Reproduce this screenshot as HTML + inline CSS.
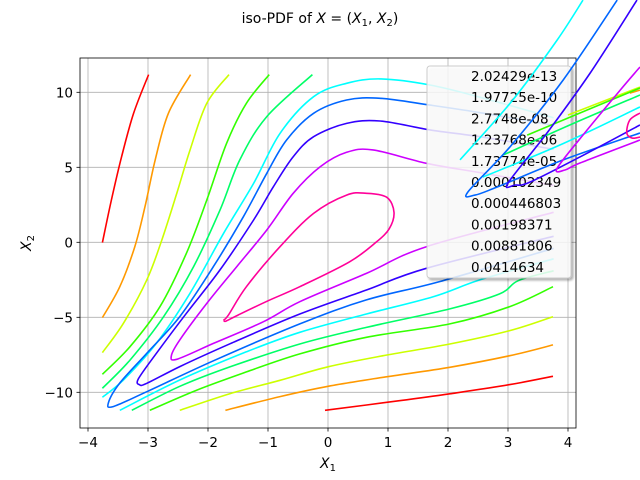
<!DOCTYPE html>
<html><head><meta charset="utf-8"><style>
body{margin:0;background:#fff;}
svg{display:block;font-family:"DejaVu Sans","Liberation Sans",sans-serif;}
</style></head><body>
<svg id="chart" width="640" height="480" viewBox="0 0 640 480">
<defs><clipPath id="axclip"><rect x="80" y="58" width="496" height="370"/></clipPath>
<filter id="sh" x="-10%" y="-10%" width="130%" height="130%"><feDropShadow dx="2" dy="2" stdDeviation="1" flood-color="#000" flood-opacity="0.35"/></filter></defs>
<text x="320" y="23" text-anchor="middle" font-size="14">iso-PDF of <tspan font-style="italic">X</tspan> = (<tspan font-style="italic">X</tspan><tspan font-size="10" dy="3">1</tspan><tspan dy="-3">, </tspan><tspan font-style="italic">X</tspan><tspan font-size="10" dy="3">2</tspan><tspan dy="-3">)</tspan></text>
<g id="grid"></g>
<g id="contours" clip-path="url(#axclip)"></g>
<rect x="80" y="58" width="496" height="370" fill="none" stroke="#000" stroke-width="0.8"/>
<g id="ticks"></g>
<text x="328" y="468" text-anchor="middle" font-size="14" font-style="italic">X<tspan font-size="10" dy="3" font-style="normal">1</tspan></text>
<text transform="translate(31,243) rotate(-90)" text-anchor="middle" font-size="14" font-style="italic">X<tspan font-size="10" dy="3" font-style="normal">2</tspan></text>
<g>
<rect x="427" y="66" width="144" height="212" rx="3" fill="#fff" fill-opacity="0.8" stroke="#ccc" filter="url(#sh)"/>
<g id="legendText"></g>
</g>
<g id="extra"></g>
</svg>
<script>
const xTicks=[-4,-3,-2,-1,0,1,2,3,4];
const yTicks=[-10,-5,0,5,10];
const levelLabels=["2.02429e-13","1.97725e-10","2.7748e-08","1.23768e-06","1.73774e-05","0.000102349","0.000446803","0.00198371","0.00881806","0.0414634"];
const colors=["#ff0000","#ff9900","#ccff00","#33ff00","#00ff66","#00ffff","#0066ff","#3300ff","#cc00ff","#ff0099"];
const red=[[[-3.76,-0.02],[-3.61,2.82],[-3.44,5.71],[-3.24,8.6],[-2.99,11.18]],[[-0.05,-11.2],[1.19,-10.56],[2.03,-10.1],[3.03,-9.49],[3.75,-8.93]]];
const orange=[[[-3.76,-5.02],[-3.47,-2.96],[-3.22,-0.29],[-3.05,2.38],[-2.88,5.49],[-2.66,8.6],[-2.29,11.18]],[[-1.71,-11.2],[-0.8,-10.29],[0,-9.6],[0.92,-9.0],[2.03,-8.33],[3.03,-7.56],[3.75,-6.84]]];
const yellow=[[[-3.76,-7.35],[-3.41,-5.4],[-3.02,-2.51],[-2.77,0.15],[-2.52,3.27],[-2.3,6.15],[-2.02,9.27],[-1.65,11.18]],[[-2.47,-11.2],[-1.63,-10.09],[-0.8,-9.2],[0,-8.3],[0.92,-7.56],[2.03,-6.78],[3.03,-5.89],[3.75,-4.96]]];
const lime=[[[-3.76,-8.8],[-3.3,-6.96],[-2.8,-4.29],[-2.36,-0.73],[-2.02,2.82],[-1.69,6.6],[-1.36,9.27],[-0.98,11.18]],[[-2.97,-11.2],[-2.19,-9.86],[-1.36,-8.64],[-0.47,-7.44],[0.64,-6.33],[2.03,-5.44],[3.03,-4.29],[3.75,-2.96]]];
const green=[[[-3.76,-9.73],[-3.3,-7.85],[-2.74,-4.96],[-2.24,-1.62],[-1.8,2.15],[-1.47,5.49],[-1.02,8.38],[-0.26,11.18]],[[-3.27,-11.2],[-2.47,-9.6],[-1.63,-8.3],[-0.47,-6.78],[0.64,-5.67],[2.03,-4.44],[2.86,-3.44],[3.17,-2.56],[3.76,-1.9]]];
const cyan=[[[-3.76,-10.33],[-3.41,-9.18],[-2.86,-6.73],[-2.3,-3.4],[-1.74,0.6],[-1.24,3.93],[-0.8,7.26],[-0.24,9.71],[0.31,10.6],[0.87,10.89],[1.7,10.49],[2.6,9.6],[3.76,8.3]],[[-3.47,-11.2],[-2.47,-9.18],[-1.36,-7.3],[-0.47,-6.0],[0.64,-4.78],[1.76,-3.62],[2.53,-2.51],[3.76,-1.1]]];
const blue=[[[3.76,7.8],[2.6,8.6],[1.7,9.15],[0.87,9.6],[0.31,9.49],[-0.24,8.6],[-0.69,6.82],[-1.02,4.6],[-1.41,1.71],[-1.91,-1.62],[-2.47,-4.95],[-3.02,-7.4],[-3.47,-9.38],[-3.66,-10.7],[-3.58,-10.95],[-3.02,-9.96],[-1.91,-7.9],[-0.47,-5.44],[0.64,-3.84],[1.86,-2.62],[3.76,-0.4]]];
const indigo=[[[3.76,6.2],[2.6,7.0],[1.7,7.49],[0.87,8.09],[0.31,7.93],[-0.24,7.04],[-0.58,5.71],[-0.91,3.71],[-1.24,1.49],[-1.8,-1.84],[-2.36,-4.73],[-2.86,-7.4],[-3.16,-9.1],[-3.14,-9.5],[-3.02,-9.4],[-2.47,-8.29],[-1.63,-6.76],[-0.47,-4.78],[0.64,-3.18],[1.64,-1.73],[3.76,0.4]]];
const purple=[[[3.76,3.8],[2.6,4.6],[1.64,5.27],[0.75,6.16],[0.31,6.0],[-0.13,5.04],[-0.58,3.27],[-1.02,0.82],[-1.52,-1.62],[-2.02,-4.07],[-2.47,-6.51],[-2.61,-7.55],[-2.52,-7.8],[-1.91,-6.74],[-1.08,-5.3],[-0.47,-3.96],[0.64,-2.07],[1.64,-0.29],[3.76,2.0]]];
const magenta=[[[-1.74,-5.18],[-1.66,-4.85],[-1.36,-2.96],[-0.8,-0.29],[-0.24,1.93],[0.31,3.15],[0.64,3.27],[0.98,3.0],[1.1,2.0],[1.02,0.9],[0.8,0.0],[0.36,-1.3],[-0.47,-2.96],[-1.0,-3.9],[-1.5,-4.85],[-1.7,-5.25],[-1.74,-5.18]]];
const levels=[red,orange,yellow,lime,green,cyan,blue,indigo,purple,magenta];
const extraCyan=[[[2.2,5.49],[3.08,9.49],[3.82,13.49],[4.25,16.15]],[[2.58,4.35],[3.87,6.49],[5.2,9.02]]];
const extraBlue=[[[4.82,16.15],[3.92,10.82],[3.03,6.35],[2.33,3.35],[2.45,3.15],[2.82,3.69],[3.92,5.49],[5.2,7.29]]];
const extraIndigo=[[[5.15,16.15],[4.37,11.29],[3.65,7.29],[3.0,3.95],[3.12,3.82],[3.37,4.02],[4.2,5.69],[5.2,7.82]]];
const extraPurple=[[[5.2,11.69],[4.87,10.15],[4.32,7.49],[3.82,4.95],[3.95,4.82],[4.2,5.29],[5.2,6.82]]];
const extraMagenta=[[[5.2,8.62],[5.03,8.15],[4.98,7.29],[5.07,6.95],[5.2,7.02]]];
const extraGreen=[[[2.92,5.82],[4.03,7.82],[5.2,9.82]]];
const extraLime=[[[3.32,7.15],[5.2,10.29]]];
const extraYellow=[[[4.0,8.49],[5.2,10.35]]];
const extraOrange=[[[5.03,9.95],[5.2,10.15]]];
const extras=[[extraOrange,1],[extraYellow,2],[extraLime,3],[extraGreen,4],[extraCyan,5],[extraBlue,6],[extraIndigo,7],[extraPurple,8],[extraMagenta,9]];

const NS="http://www.w3.org/2000/svg";
const sx=v=>328+60*v, sy=v=>242.3-15*v;
function pathD(pts){
  const p=pts.map(q=>[sx(q[0]),sy(q[1])]);
  let d="M"+p[0][0].toFixed(1)+","+p[0][1].toFixed(1);
  for(let i=0;i<p.length-1;i++){
    const p0=p[i-1]||p[i],p1=p[i],p2=p[i+1],p3=p[i+2]||p2;
    const c1=[p1[0]+(p2[0]-p0[0])/6,p1[1]+(p2[1]-p0[1])/6];
    const c2=[p2[0]-(p3[0]-p1[0])/6,p2[1]-(p3[1]-p1[1])/6];
    d+="C"+c1.map(v=>v.toFixed(1))+" "+c2.map(v=>v.toFixed(1))+" "+p2.map(v=>v.toFixed(1));
  }
  return d;
}
const grid=document.getElementById("grid"),ticks=document.getElementById("ticks");
xTicks.forEach(t=>{
  const l=document.createElementNS(NS,"line");
  l.setAttribute("x1",sx(t));l.setAttribute("x2",sx(t));l.setAttribute("y1",58);l.setAttribute("y2",428);
  l.setAttribute("stroke","#b0b0b0");l.setAttribute("stroke-width","0.8");
  
  
  grid.appendChild(l);
  const tk=document.createElementNS(NS,"line");
  tk.setAttribute("x1",sx(t));tk.setAttribute("x2",sx(t));tk.setAttribute("y1",428);tk.setAttribute("y2",431.5);
  tk.setAttribute("stroke","#000");tk.setAttribute("stroke-width","0.8");
  
  
  ticks.appendChild(tk);
  const tx=document.createElementNS(NS,"text");
  tx.setAttribute("x",sx(t));tx.setAttribute("y",447);tx.setAttribute("text-anchor","middle");tx.setAttribute("font-size","13.5");
  tx.textContent=(t<0?"\u2212":"")+Math.abs(t);
  
  
  ticks.appendChild(tx);
});
yTicks.forEach(t=>{
  const l=document.createElementNS(NS,"line");
  l.setAttribute("x1",80);l.setAttribute("x2",576);l.setAttribute("y1",sy(t));l.setAttribute("y2",sy(t));
  l.setAttribute("stroke","#b0b0b0");l.setAttribute("stroke-width","0.8");
  
  
  grid.appendChild(l);
  const tk=document.createElementNS(NS,"line");
  tk.setAttribute("x1",76.5);tk.setAttribute("x2",80);tk.setAttribute("y1",sy(t));tk.setAttribute("y2",sy(t));
  tk.setAttribute("stroke","#000");tk.setAttribute("stroke-width","0.8");
  
  
  ticks.appendChild(tk);
  const tx=document.createElementNS(NS,"text");
  tx.setAttribute("x",73);tx.setAttribute("y",sy(t)+5);tx.setAttribute("text-anchor","end");tx.setAttribute("font-size","13.5");
  tx.textContent=(t<0?"\u2212":"")+Math.abs(t);
  
  
  ticks.appendChild(tx);
});
const cg=document.getElementById("contours");
levels.forEach((lv,i)=>{
  lv.forEach(seg=>{
    const p=document.createElementNS(NS,"path");
    p.setAttribute("d",pathD(seg));p.setAttribute("fill","none");p.setAttribute("stroke",colors[i]);p.setAttribute("stroke-width","1.6");
    
    
    cg.appendChild(p);
  });
});
const lt=document.getElementById("legendText");
levelLabels.forEach((s,i)=>{
  const tx=document.createElementNS(NS,"text");
  tx.setAttribute("x",471);tx.setAttribute("y",81+i*21.2);tx.setAttribute("font-size","13.5");
  tx.textContent=s;
  
  
  lt.appendChild(tx);
});
const eg=document.getElementById("extra");
extras.forEach(([segs,ci])=>{
  segs.forEach(seg=>{
    const p=document.createElementNS(NS,"path");
    p.setAttribute("d",pathD(seg));p.setAttribute("fill","none");p.setAttribute("stroke",colors[ci]);p.setAttribute("stroke-width","1.6");
    
    
    eg.appendChild(p);
  });
});
</script>
</body></html>
